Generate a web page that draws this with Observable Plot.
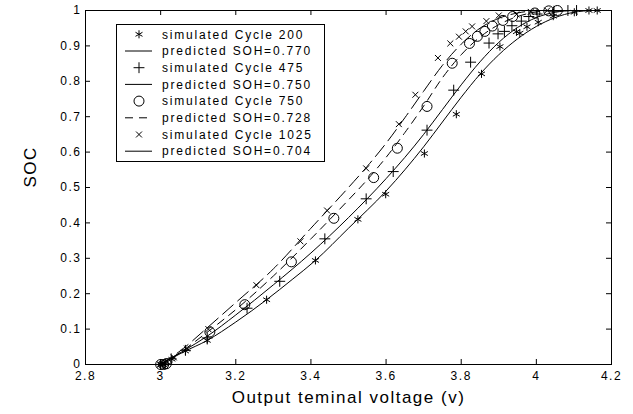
<!DOCTYPE html>
<html><head><meta charset="utf-8">
<script src="https://cdn.jsdelivr.net/npm/d3@7"></script>
<script src="https://cdn.jsdelivr.net/npm/@observablehq/plot@0.6"></script>
<style>
html,body{margin:0;padding:0;background:#fff;}
#wrap{position:relative;width:633px;height:414px;font-family:"Liberation Sans",Arial,sans-serif;}
#legend{position:absolute;left:116px;top:24px;}
#wrap text{letter-spacing:1.5px;}
</style></head><body><div id="wrap"></div>
<script>
// ticks
const xTicks = [2.8, 3.0, 3.2, 3.4, 3.6, 3.8, 4.0, 4.2];
const xTickLabels = ["2.8", "3", "3.2", "3.4", "3.6", "3.8", "4", "4.2"];
const yTicks = [0, 0.1, 0.2, 0.3, 0.4, 0.5, 0.6, 0.7, 0.8, 0.9, 1];
const yTickLabels = ["0", "0.1", "0.2", "0.3", "0.4", "0.5", "0.6", "0.7", "0.8", "0.9", "1"];

// simulated Cycle 200 (asterisk)
const c200V   = [3.000, 3.006, 3.012, 3.030, 3.066, 3.124, 3.282, 3.412, 3.525, 3.599, 3.702, 3.787, 3.854, 3.903, 3.947, 3.956, 3.975, 4.005, 4.045, 4.101, 4.140, 4.162];
const c200SOC = [0.000, 0.000, 0.002, 0.015, 0.038, 0.068, 0.183, 0.294, 0.410, 0.481, 0.596, 0.707, 0.821, 0.898, 0.940, 0.936, 0.954, 0.967, 0.984, 0.995, 1.000, 1.000];
// simulated Cycle 475 (plus)
const c475V   = [3.000, 3.012, 3.028, 3.066, 3.124, 3.230, 3.317, 3.437, 3.547, 3.619, 3.709, 3.780, 3.825, 3.874, 3.898, 3.915, 3.935, 3.960, 3.980, 4.002, 4.047, 4.084, 4.107];
const c475SOC = [0.000, 0.002, 0.016, 0.040, 0.075, 0.159, 0.235, 0.355, 0.468, 0.545, 0.662, 0.775, 0.854, 0.908, 0.934, 0.941, 0.957, 0.970, 0.983, 0.990, 0.998, 1.000, 1.000];
// simulated Cycle 750 (circle)
const c750V   = [3.000, 3.008, 3.015, 3.131, 3.224, 3.348, 3.461, 3.567, 3.630, 3.709, 3.776, 3.822, 3.843, 3.863, 3.883, 3.911, 3.937, 3.996, 4.033, 4.056];
const c750SOC = [0.000, 0.000, 0.002, 0.092, 0.169, 0.290, 0.413, 0.528, 0.611, 0.729, 0.851, 0.907, 0.927, 0.941, 0.956, 0.972, 0.983, 0.993, 0.999, 1.000];
// simulated Cycle 1025 (times)
const c1025V   = [3.000, 3.010, 3.035, 3.070, 3.127, 3.255, 3.372, 3.443, 3.547, 3.634, 3.678, 3.738, 3.771, 3.794, 3.812, 3.829, 3.867, 3.900, 3.947, 3.985, 4.029];
const c1025SOC = [0.000, 0.001, 0.020, 0.045, 0.100, 0.224, 0.348, 0.435, 0.554, 0.679, 0.762, 0.866, 0.907, 0.926, 0.941, 0.955, 0.970, 0.986, 0.989, 0.996, 1.000];

// predicted curves
const p770V   = [3.000, 3.060, 3.124, 3.200, 3.282, 3.350, 3.412, 3.500, 3.600, 3.650, 3.700, 3.750, 3.800, 3.850, 3.900, 3.950, 4.000, 4.050, 4.100, 4.150];
const p770SOC = [0.000, 0.035, 0.068, 0.120, 0.183, 0.240, 0.294, 0.385, 0.490, 0.550, 0.615, 0.685, 0.755, 0.820, 0.875, 0.920, 0.955, 0.980, 0.995, 1.000];
const p750V   = [3.000, 3.060, 3.124, 3.200, 3.300, 3.400, 3.500, 3.600, 3.650, 3.700, 3.750, 3.800, 3.850, 3.900, 3.950, 4.000, 4.050, 4.100];
const p750SOC = [0.000, 0.038, 0.080, 0.140, 0.225, 0.315, 0.415, 0.525, 0.585, 0.650, 0.720, 0.790, 0.855, 0.910, 0.952, 0.980, 0.995, 1.000];
const p728V   = [3.000, 3.060, 3.120, 3.200, 3.300, 3.400, 3.500, 3.550, 3.600, 3.650, 3.700, 3.750, 3.800, 3.850, 3.900, 3.950, 4.000, 4.050];
const p728SOC = [0.000, 0.040, 0.088, 0.155, 0.250, 0.355, 0.465, 0.522, 0.585, 0.655, 0.730, 0.810, 0.875, 0.925, 0.960, 0.983, 0.996, 1.000];
const p704V   = [3.000, 3.060, 3.120, 3.200, 3.300, 3.400, 3.500, 3.550, 3.600, 3.650, 3.700, 3.750, 3.800, 3.850, 3.900, 3.950, 4.000];
const p704SOC = [0.000, 0.045, 0.100, 0.175, 0.270, 0.385, 0.500, 0.560, 0.625, 0.697, 0.772, 0.845, 0.905, 0.950, 0.978, 0.993, 1.000];

const legendLabels = ["simulated Cycle 200", "predicted SOH=0.770", "simulated Cycle 475", "predicted SOH=0.750",
  "simulated Cycle 750", "predicted SOH=0.728", "simulated Cycle 1025", "predicted SOH=0.704"];

const zip = (vs, ss) => vs.map((v, i) => ({v, soc: ss[i]}));
const c200 = zip(c200V, c200SOC), c475 = zip(c475V, c475SOC), c750 = zip(c750V, c750SOC), c1025 = zip(c1025V, c1025SOC);
const p770 = zip(p770V, p770SOC), p750 = zip(p750V, p750SOC), p728 = zip(p728V, p728SOC), p704 = zip(p704V, p704SOC);
const xLab = new Map(xTicks.map((t, i) => [t, xTickLabels[i]]));
const yLab = new Map(yTicks.map((t, i) => [t, yTickLabels[i]]));

const R = {asterisk: 3.8, plus: 3.6, circle: 5, times: 2.8};
const tickLenX = 5 / 353, tickLenY = 5 * 1.4 / 526;

const chart = Plot.plot({
  width: 633, height: 414,
  marginLeft: 85, marginRight: 22, marginTop: 10, marginBottom: 50,
  x: {domain: [2.8, 4.2]},
  y: {domain: [0, 1]},
  style: {fontFamily: "'Liberation Sans', Arial, sans-serif", background: "white", color: "black", overflow: "visible"},
  marks: [
    Plot.frame({stroke: "black", strokeWidth: 1}),
    Plot.ruleX(xTicks, {x: d => d, y1: 0, y2: tickLenX, stroke: "black"}),
    Plot.ruleX(xTicks, {x: d => d, y1: 1, y2: 1 - tickLenX, stroke: "black"}),
    Plot.ruleY(yTicks, {y: d => d, x1: 2.8, x2: 2.8 + tickLenY, stroke: "black"}),
    Plot.ruleY(yTicks, {y: d => d, x1: 4.2, x2: 4.2 - tickLenY, stroke: "black"}),
    Plot.axisX(xTicks, {tickSize: 0, tickPadding: 7, tickFormat: d => xLab.get(d), fontSize: 12, label: null}),
    Plot.axisY(yTicks, {tickSize: 0, tickPadding: 4, tickFormat: d => yLab.get(d), fontSize: 12, label: null}),
    Plot.text(["Output teminal voltage (v)"], {frameAnchor: "bottom", dy: 38, fontSize: 17}),
    Plot.text(["SOC"], {frameAnchor: "left", dx: -55, rotate: -90, fontSize: 17}),
    Plot.line(p770, {x: "v", y: "soc", stroke: "black", strokeWidth: 1, curve: "monotone-x"}),
    Plot.line(p750, {x: "v", y: "soc", stroke: "black", strokeWidth: 1, curve: "monotone-x"}),
    Plot.line(p728, {x: "v", y: "soc", stroke: "black", strokeWidth: 1, strokeDasharray: "8,6", curve: "monotone-x"}),
    Plot.line(p704, {x: "v", y: "soc", stroke: "black", strokeWidth: 1, strokeDasharray: "14,6", curve: "monotone-x"}),
    Plot.dot(c200, {x: "v", y: "soc", symbol: "asterisk", r: R.asterisk, stroke: "black", strokeWidth: 1}),
    Plot.dot(c475, {x: "v", y: "soc", symbol: "plus", r: R.plus, stroke: "black", strokeWidth: 1}),
    Plot.dot(c750, {x: "v", y: "soc", symbol: "circle", r: R.circle, stroke: "black", fill: "none", strokeWidth: 1}),
    Plot.dot(c1025, {x: "v", y: "soc", symbol: "times", r: R.times, stroke: "black", strokeWidth: 1})
  ]
});
const wrap = document.getElementById("wrap");
wrap.append(chart);

// legend overlay
const lw = 209, lh = 138;
const leg = d3.select(wrap).append("svg").attr("id", "legend").attr("width", lw + 1).attr("height", lh + 1);
leg.append("rect").attr("x", 0.5).attr("y", 0.5).attr("width", lw - 1).attr("height", lh - 1)
  .attr("fill", "white").attr("stroke", "black");
const syms = [
  {type: "sym", s: d3.symbolAsterisk, r: R.asterisk},
  {type: "line", dash: null},
  {type: "sym", s: d3.symbolPlus, r: R.plus},
  {type: "line", dash: null},
  {type: "sym", s: d3.symbolCircle, r: R.circle},
  {type: "line", dash: "8,6"},
  {type: "sym", s: d3.symbolTimes, r: R.times},
  {type: "line", dash: null}
];
legendLabels.forEach((lab, k) => {
  const cy = 10.3 + k * 16.7;
  const s = syms[k];
  if (s.type === "sym") {
    leg.append("path").attr("transform", `translate(23,${cy})`)
      .attr("d", d3.symbol(s.s, Math.PI * s.r * s.r)())
      .attr("fill", "none").attr("stroke", "black");
  } else {
    leg.append("line").attr("x1", 9).attr("x2", 36).attr("y1", cy).attr("y2", cy)
      .attr("stroke", "black").attr("stroke-dasharray", s.dash);
  }
  leg.append("text").attr("x", 46).attr("y", cy).attr("dy", "0.35em")
    .attr("font-size", 12).attr("fill", "black").style("letter-spacing", "1.8px").text(lab);
});
</script></body></html>
